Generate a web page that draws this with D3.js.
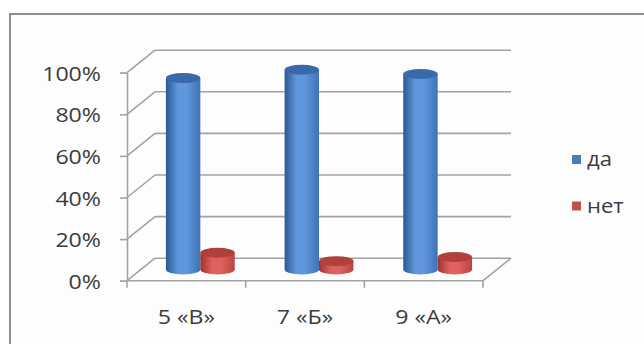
<!DOCTYPE html>
<html>
<head>
<meta charset="utf-8">
<script src="https://cdn.jsdelivr.net/npm/d3@7"></script>
<style>
  html, body { margin: 0; padding: 0; background: #ffffff; }
  svg { display: block; }
  text { font-family: "Open Sans", "Liberation Sans", sans-serif; fill: #3c3c3c; }
</style>
</head>
<body>
<svg id="chart" width="644" height="344"></svg>
<script>
// ---- data ----
const categories = ["5 «В»", "7 «Б»", "9 «А»"];
const seriesNames = ["да", "нет"];
const daValues = [92, 96, 94];
const netValues = [8, 4, 6];
const yTickValues = [0, 20, 40, 60, 80, 100];

const seriesValues = [daValues, netValues];
const seriesColors = [
  { dark: "#2c5893", light: "#6097dc", mid: "#3f72b6", top: "#3a69a9", legend: "#4a7ebb" },
  { dark: "#9c3330", light: "#e0625e", mid: "#bb4441", top: "#b13f3c", legend: "#c0504d" }
];

const svg = d3.select("#chart");
const stretch = 1.13;

// chart frame
svg.append("rect").attr("x", 10).attr("y", 14).attr("width", 700).attr("height", 400)
  .attr("fill", "#fdfdfd").attr("stroke", "#8e8e8e").attr("stroke-width", 2);

// 3D geometry
const depthDx = 28, depthDy = -22.5;
const x0 = d3.scaleBand().domain(categories).range([127, 483]).paddingInner(0.42).paddingOuter(0.21);
const x1 = d3.scaleBand().domain(seriesNames).range([0, x0.bandwidth()]);
const y = d3.scaleLinear().domain([0, 100]).range([280.7, 72.7]);

const gridColor = "#a3a3a3";
const g = svg.append("g");

// back wall gridlines + left wall diagonals
yTickValues.forEach(v => {
  const yy = y(v);
  g.append("line").attr("x1", 127 + depthDx).attr("x2", 483 + depthDx)
    .attr("y1", yy + depthDy).attr("y2", yy + depthDy)
    .attr("stroke", gridColor).attr("stroke-width", 1.6);
  g.append("line").attr("x1", 127).attr("x2", 127 + depthDx)
    .attr("y1", yy).attr("y2", yy + depthDy)
    .attr("stroke", gridColor).attr("stroke-width", 1.6);
});
// floor
g.append("line").attr("x1", 127).attr("x2", 483).attr("y1", y(0)).attr("y2", y(0))
  .attr("stroke", gridColor).attr("stroke-width", 1.6);
g.append("line").attr("x1", 483).attr("x2", 483 + depthDx).attr("y1", y(0)).attr("y2", y(0) + depthDy)
  .attr("stroke", gridColor).attr("stroke-width", 1.6);

// y axis
const yAxis = d3.axisLeft(y).tickValues(yTickValues).tickFormat(d => d + "%").tickSize(7).tickPadding(0);
const ya = svg.append("g").attr("transform", "translate(127,0)").call(yAxis);
ya.select(".domain").attr("stroke", gridColor).attr("stroke-width", 1.6);
ya.selectAll(".tick line").attr("stroke", gridColor).attr("stroke-width", 1.6);
ya.selectAll(".tick text")
  .attr("x", null).attr("dy", null)
  .attr("font-size", 20.5).attr("font-family", "'Open Sans', sans-serif")
  .attr("fill", "#3c3c3c")
  .attr("transform", `translate(-26,7.5) scale(${stretch},1)`);

// category ticks at band boundaries
const bounds = categories.map(c => x0(c) - x0.step() * x0.paddingInner() / 2);
bounds[0] = 127;
bounds.push(483);
bounds.forEach(bx => {
  svg.append("line").attr("x1", bx).attr("x2", bx).attr("y1", y(0)).attr("y2", y(0) + 7)
    .attr("stroke", gridColor).attr("stroke-width", 1.6);
});
categories.forEach(c => {
  svg.append("text")
    .attr("transform", `translate(${x0(c) + x0.bandwidth() / 2},323.5) scale(${stretch},1)`)
    .attr("text-anchor", "middle").attr("font-size", 20.5).text(c);
});

// gradients
const defs = svg.append("defs");
seriesColors.forEach((c, i) => {
  const lg = defs.append("linearGradient").attr("id", "grad" + i).attr("x1", "0").attr("x2", "1").attr("y1", "0").attr("y2", "0");
  lg.append("stop").attr("offset", "0%").attr("stop-color", c.dark);
  lg.append("stop").attr("offset", "35%").attr("stop-color", c.light);
  lg.append("stop").attr("offset", "60%").attr("stop-color", c.light);
  lg.append("stop").attr("offset", "100%").attr("stop-color", c.mid);
});

// cylinders
const cylDx = depthDx * 0.5, cylDy = depthDy * 0.5;
const ry = 5;
categories.forEach((c, ci) => {
  seriesNames.forEach((s, si) => {
    const v = seriesValues[si][ci];
    const w = x1.bandwidth();
    const rx = w / 2;
    const cx = x0(c) + x1(s) + rx + cylDx;
    const yTop = y(v) + cylDy;
    const yBase = y(0) + cylDy;
    svg.append("path")
      .attr("d", `M${cx - rx},${yTop} L${cx - rx},${yBase} A${rx},${ry} 0 0 0 ${cx + rx},${yBase} L${cx + rx},${yTop} Z`)
      .attr("fill", `url(#grad${si})`);
    svg.append("ellipse").attr("cx", cx).attr("cy", yTop).attr("rx", rx).attr("ry", ry)
      .attr("fill", seriesColors[si].top);
  });
});

// legend
const legendY = [159.5, 206];
seriesNames.forEach((s, i) => {
  svg.append("rect").attr("x", 572).attr("y", legendY[i] - 4.5).attr("width", 9).attr("height", 9)
    .attr("fill", seriesColors[i].legend);
  svg.append("text")
    .attr("transform", `translate(587,${legendY[i] + 6.5}) scale(${stretch},1)`)
    .attr("font-size", 19.5).text(s);
});
</script>
</body>
</html>
